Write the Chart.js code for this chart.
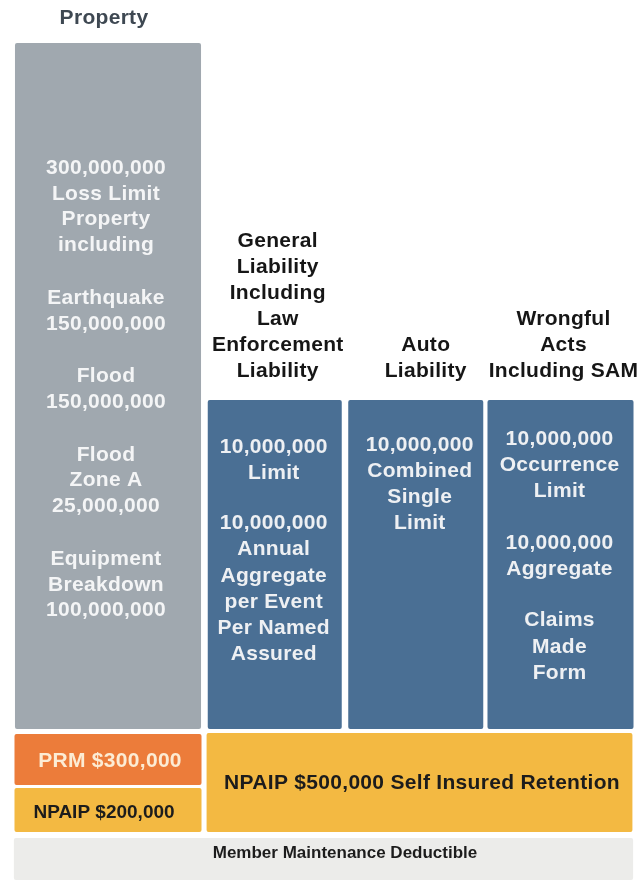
<!DOCTYPE html>
<html>
<head>
<meta charset="utf-8">
<title>Coverage tower</title>
<script src="https://cdn.jsdelivr.net/npm/chart.js@4.4.1/dist/chart.umd.min.js"></script>
<style>
  html, body { margin: 0; padding: 0; background: #fff; }
  #tower { display: block; }
</style>
</head>
<body>
<canvas id="tower" width="639" height="880"></canvas>
<script>
// coverage columns (excess layer)
const columnNames = ['Property', 'General Liability', 'Auto Liability', 'Wrongful Acts'];
const columnTitles = [
  ['Property'],
  ['General', 'Liability', 'Including', 'Law', 'Enforcement', 'Liability'],
  ['Auto', 'Liability'],
  ['Wrongful', 'Acts', 'Including SAM']
];
const columnLimits = [
  ['300,000,000', 'Loss Limit', 'Property', 'including', '', 'Earthquake', '150,000,000', '',
   'Flood', '150,000,000', '', 'Flood', 'Zone A', '25,000,000', '', 'Equipment', 'Breakdown', '100,000,000'],
  ['10,000,000', 'Limit', '', '10,000,000', 'Annual', 'Aggregate', 'per Event', 'Per Named', 'Assured'],
  ['10,000,000', 'Combined', 'Single', 'Limit'],
  ['10,000,000', 'Occurrence', 'Limit', '', '10,000,000', 'Aggregate', '', 'Claims', 'Made', 'Form']
];
// layer extents in tower units, 0 = bottom of the tower
const columnFrom = [15.1, 15.1, 15.1, 15.1];
const columnTo = [83.7, 48.0, 48.0, 48.0];

// retention layer
const retentionNames = ['PRM $300,000', 'NPAIP $200,000', 'NPAIP $500,000 Self Insured Retention'];
const retentionFrom = [9.5, 4.8, 4.8];
const retentionTo = [14.6, 9.2, 14.7];

// deductible layer
const deductibleNames = ['Member Maintenance Deductible'];
const deductibleFrom = [0];
const deductibleTo = [4.2];

const towerTop = 83.7;

// ---- styling ----
const FONT = '"Liberation Sans", Arial, sans-serif';
const GRAY = '#a0a8af';
const BLUE = '#4a6f94';
const ORANGE = '#ec7c3a';
const YELLOW = '#f3b942';
const LIGHT = '#ececea';

const columnAxes = ['xProp', 'xGL', 'xAuto', 'xWA'];
const columnColors = [GRAY, BLUE, BLUE, BLUE];
const columnBarPct = [0.969, 0.947, 0.961, 0.98];
const columnText = [
  {size: 21, color: '#f4f5f6', first: 125, lh: 25.8, gap: 26.8, dx: -2,
   titleColor: '#3e4852', titleBottom: 25, titleDx: -4},
  {size: 21, color: '#eef0f3', first: 47, lh: 26.2, gap: 24, dx: -1,
   titleColor: '#161616', titleBottom: 29, titleDx: 3},
  {size: 21, color: '#eef0f3', first: 45, lh: 26.2, gap: 24, dx: 4,
   titleColor: '#161616', titleBottom: 29, titleDx: 10},
  {size: 21, color: '#eef0f3', first: 39, lh: 26.3, gap: 25, dx: -1,
   titleColor: '#161616', titleBottom: 29, titleDx: 3}
];

const retentionAxes = ['xRet', 'xRet', 'xSIR'];
const retentionColors = [ORANGE, YELLOW, YELLOW];
const retentionBarPct = [0.974, 0.974, 0.988];
const retentionText = [
  {size: 21, color: '#fcecd4', first: 27, dx: 2},
  {size: 19, color: '#1c1c1c', first: 25, dx: -4},
  {size: 21, color: '#1c1c1c', first: 50, dx: 2.5}
];
const deductibleText = [{size: 17, color: '#1c1c1c', first: 15, dx: 21.5}];

const datasets = [];
const boxInfo = [];

function addBox(name, from, to, axis, color, pct, text, lines, title) {
  datasets.push({
    label: name,
    xAxisID: axis,
    data: [[from, to]],
    backgroundColor: color,
    barPercentage: pct,
    categoryPercentage: 1,
    grouped: false,
    borderWidth: 0,
    borderRadius: 2,
    borderSkipped: false
  });
  boxInfo.push({text, lines, title});
}

columnNames.forEach((n, i) => addBox(n, columnFrom[i], columnTo[i], columnAxes[i], columnColors[i],
  columnBarPct[i], columnText[i], columnLimits[i], columnTitles[i]));
retentionNames.forEach((n, i) => addBox(n, retentionFrom[i], retentionTo[i], retentionAxes[i], retentionColors[i],
  retentionBarPct[i], retentionText[i], [n], null));
deductibleNames.forEach((n, i) => addBox(n, deductibleFrom[i], deductibleTo[i], 'xAll', LIGHT,
  0.994, deductibleText[i], [n], null));

// draws the wording inside each box and the column headings above
const boxText = {
  id: 'boxText',
  afterDatasetsDraw(chart) {
    const ctx = chart.ctx;
    boxInfo.forEach((info, i) => {
      const bar = chart.getDatasetMeta(i).data[0];
      if (!bar) return;
      const top = Math.min(bar.y, bar.base);
      const t = info.text;
      ctx.save();
      ctx.textAlign = 'center';
      ctx.textBaseline = 'middle';
      ctx.font = 'bold ' + t.size + 'px ' + FONT;
      if (t.size >= 21) ctx.letterSpacing = '0.3px';
      ctx.fillStyle = t.color;
      let y = top + t.first;
      info.lines.forEach(line => {
        if (line) {
          ctx.fillText(line, bar.x + t.dx, y);
          y += t.lh || 0;
        } else {
          y += t.gap;
        }
      });
      if (info.title) {
        ctx.fillStyle = t.titleColor;
        let ty = top - t.titleBottom;
        for (let k = info.title.length - 1; k >= 0; k--) {
          ctx.fillText(info.title[k], bar.x + t.titleDx, ty);
          ty -= 26;
        }
      }
      ctx.restore();
    });
  }
};

function hiddenAxis(label, stack, weight, order) {
  const axis = {type: 'category', labels: [label], position: 'bottom', offset: true, display: false, weight: order};
  if (stack) {
    axis.stack = stack;
    axis.stackWeight = weight;
  }
  return axis;
}

new Chart(document.getElementById('tower'), {
  type: 'bar',
  data: {datasets},
  options: {
    responsive: false,
    animation: false,
    events: [],
    layout: {padding: {left: 12, right: 4, top: 43, bottom: 0}},
    plugins: {legend: {display: false}, tooltip: {enabled: false}},
    scales: {
      y: {type: 'linear', min: 0, max: towerTop, display: false},
      xProp: hiddenAxis('Property', 'cols', 192, 1),
      xGL: hiddenAxis('General Liability', 'cols', 141.5, 2),
      xAuto: hiddenAxis('Auto Liability', 'cols', 140.5, 3),
      xWA: hiddenAxis('Wrongful Acts', 'cols', 149, 4),
      xRet: hiddenAxis('Property retention', 'base', 192, 5),
      xSIR: hiddenAxis('Self Insured Retention', 'base', 431, 6),
      xAll: hiddenAxis('Member', null, 1, 7)
    }
  },
  plugins: [boxText]
});
</script>
</body>
</html>
